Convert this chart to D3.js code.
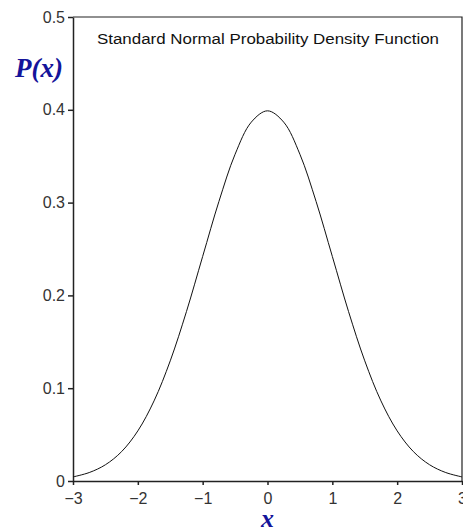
<!DOCTYPE html>
<html>
<head>
<meta charset="utf-8">
<script src="https://cdn.jsdelivr.net/npm/d3@7"></script>
<style>
  body { margin: 0; background: #fff; }
  .tick text { font-family: "Liberation Sans", Arial, sans-serif; font-size: 16px; fill: #333; }
</style>
</head>
<body>
<div id="chart"></div>
<script>
const WIDTH = 463, HEIGHT = 532;
const MARGINS = {top: 17, right: 1, bottom: 51, left: 73};

// values
const xValues = [-3, -2.75, -2.5, -2.25, -2, -1.75, -1.5, -1.25, -1, -0.75, -0.5, -0.25, 0,
                 0.25, 0.5, 0.75, 1, 1.25, 1.5, 1.75, 2, 2.25, 2.5, 2.75, 3];
const densityValues = [0.0044, 0.0091, 0.0175, 0.0317, 0.054, 0.0863, 0.1295, 0.1826, 0.242, 0.3011, 0.3521, 0.3867, 0.3989,
                       0.3867, 0.3521, 0.3011, 0.242, 0.1826, 0.1295, 0.0863, 0.054, 0.0317, 0.0175, 0.0091, 0.0044];
const xTicks = [-3, -2, -1, 0, 1, 2, 3];
const xTickLabels = ['\u22123', '\u22122', '\u22121', '0', '1', '2', '3'];
const yTicks = [0, 0.1, 0.2, 0.3, 0.4, 0.5];
const yTickLabels = ['0', '0.1', '0.2', '0.3', '0.4', '0.5'];

const svg = d3.select('#chart').append('svg')
    .attr('width', WIDTH)
    .attr('height', HEIGHT);

const xScale = d3.scaleLinear().domain([-3, 3]).range([MARGINS.left, WIDTH - MARGINS.right]);
const yScale = d3.scaleLinear().domain([0, 0.5]).range([HEIGHT - MARGINS.bottom, MARGINS.top]);

// frame (top and right sides)
svg.append('path')
    .attr('d', `M${xScale(-3)},${yScale(0.5)}H${xScale(3)}V${yScale(0)}`)
    .attr('fill', 'none')
    .attr('stroke', '#222')
    .attr('stroke-width', 1.2);

// axes
const xAxis = svg.append('g')
    .attr('transform', `translate(0, ${yScale(0)})`)
    .call(d3.axisBottom(xScale).tickValues(xTicks).tickFormat((d, i) => xTickLabels[i])
        .tickSize(4).tickPadding(8).tickSizeOuter(0));

const yAxis = svg.append('g')
    .attr('transform', `translate(${xScale(-3)}, 0)`)
    .call(d3.axisLeft(yScale).tickValues(yTicks).tickFormat((d, i) => yTickLabels[i])
        .tickSize(5).tickPadding(3).tickSizeOuter(0));

[xAxis, yAxis].forEach(ax => {
    ax.select('.domain').attr('stroke', '#222').attr('stroke-width', 1.5);
    ax.selectAll('.tick line').attr('stroke', '#222').attr('stroke-width', 1.5);
});

// curve
const line = d3.line()
    .x((d, i) => xScale(xValues[i]))
    .y(d => yScale(d))
    .curve(d3.curveCatmullRom);

svg.append('path')
    .datum(densityValues)
    .attr('d', line)
    .attr('fill', 'none')
    .attr('stroke', '#111')
    .attr('stroke-width', 1);

// title
svg.append('text')
    .attr('x', 97)
    .attr('y', 44)
    .attr('textLength', 342)
    .attr('lengthAdjust', 'spacingAndGlyphs')
    .style('font-family', '"Liberation Sans", Arial, sans-serif')
    .style('font-size', '14px')
    .style('fill', '#111')
    .text('Standard Normal Probability Density Function');

// axis labels
svg.append('text')
    .attr('x', 15)
    .attr('y', 77)
    .style('font-family', '"Liberation Serif", "Times New Roman", serif')
    .style('font-weight', 'bold')
    .style('font-style', 'italic')
    .style('font-size', '27px')
    .style('fill', '#14149a')
    .text('P(x)');

svg.append('text')
    .attr('x', xScale(0))
    .attr('y', 527)
    .attr('text-anchor', 'middle')
    .style('font-family', '"Liberation Serif", "Times New Roman", serif')
    .style('font-weight', 'bold')
    .style('font-style', 'italic')
    .style('font-size', '26px')
    .style('fill', '#14149a')
    .text('x');
</script>
</body>
</html>
